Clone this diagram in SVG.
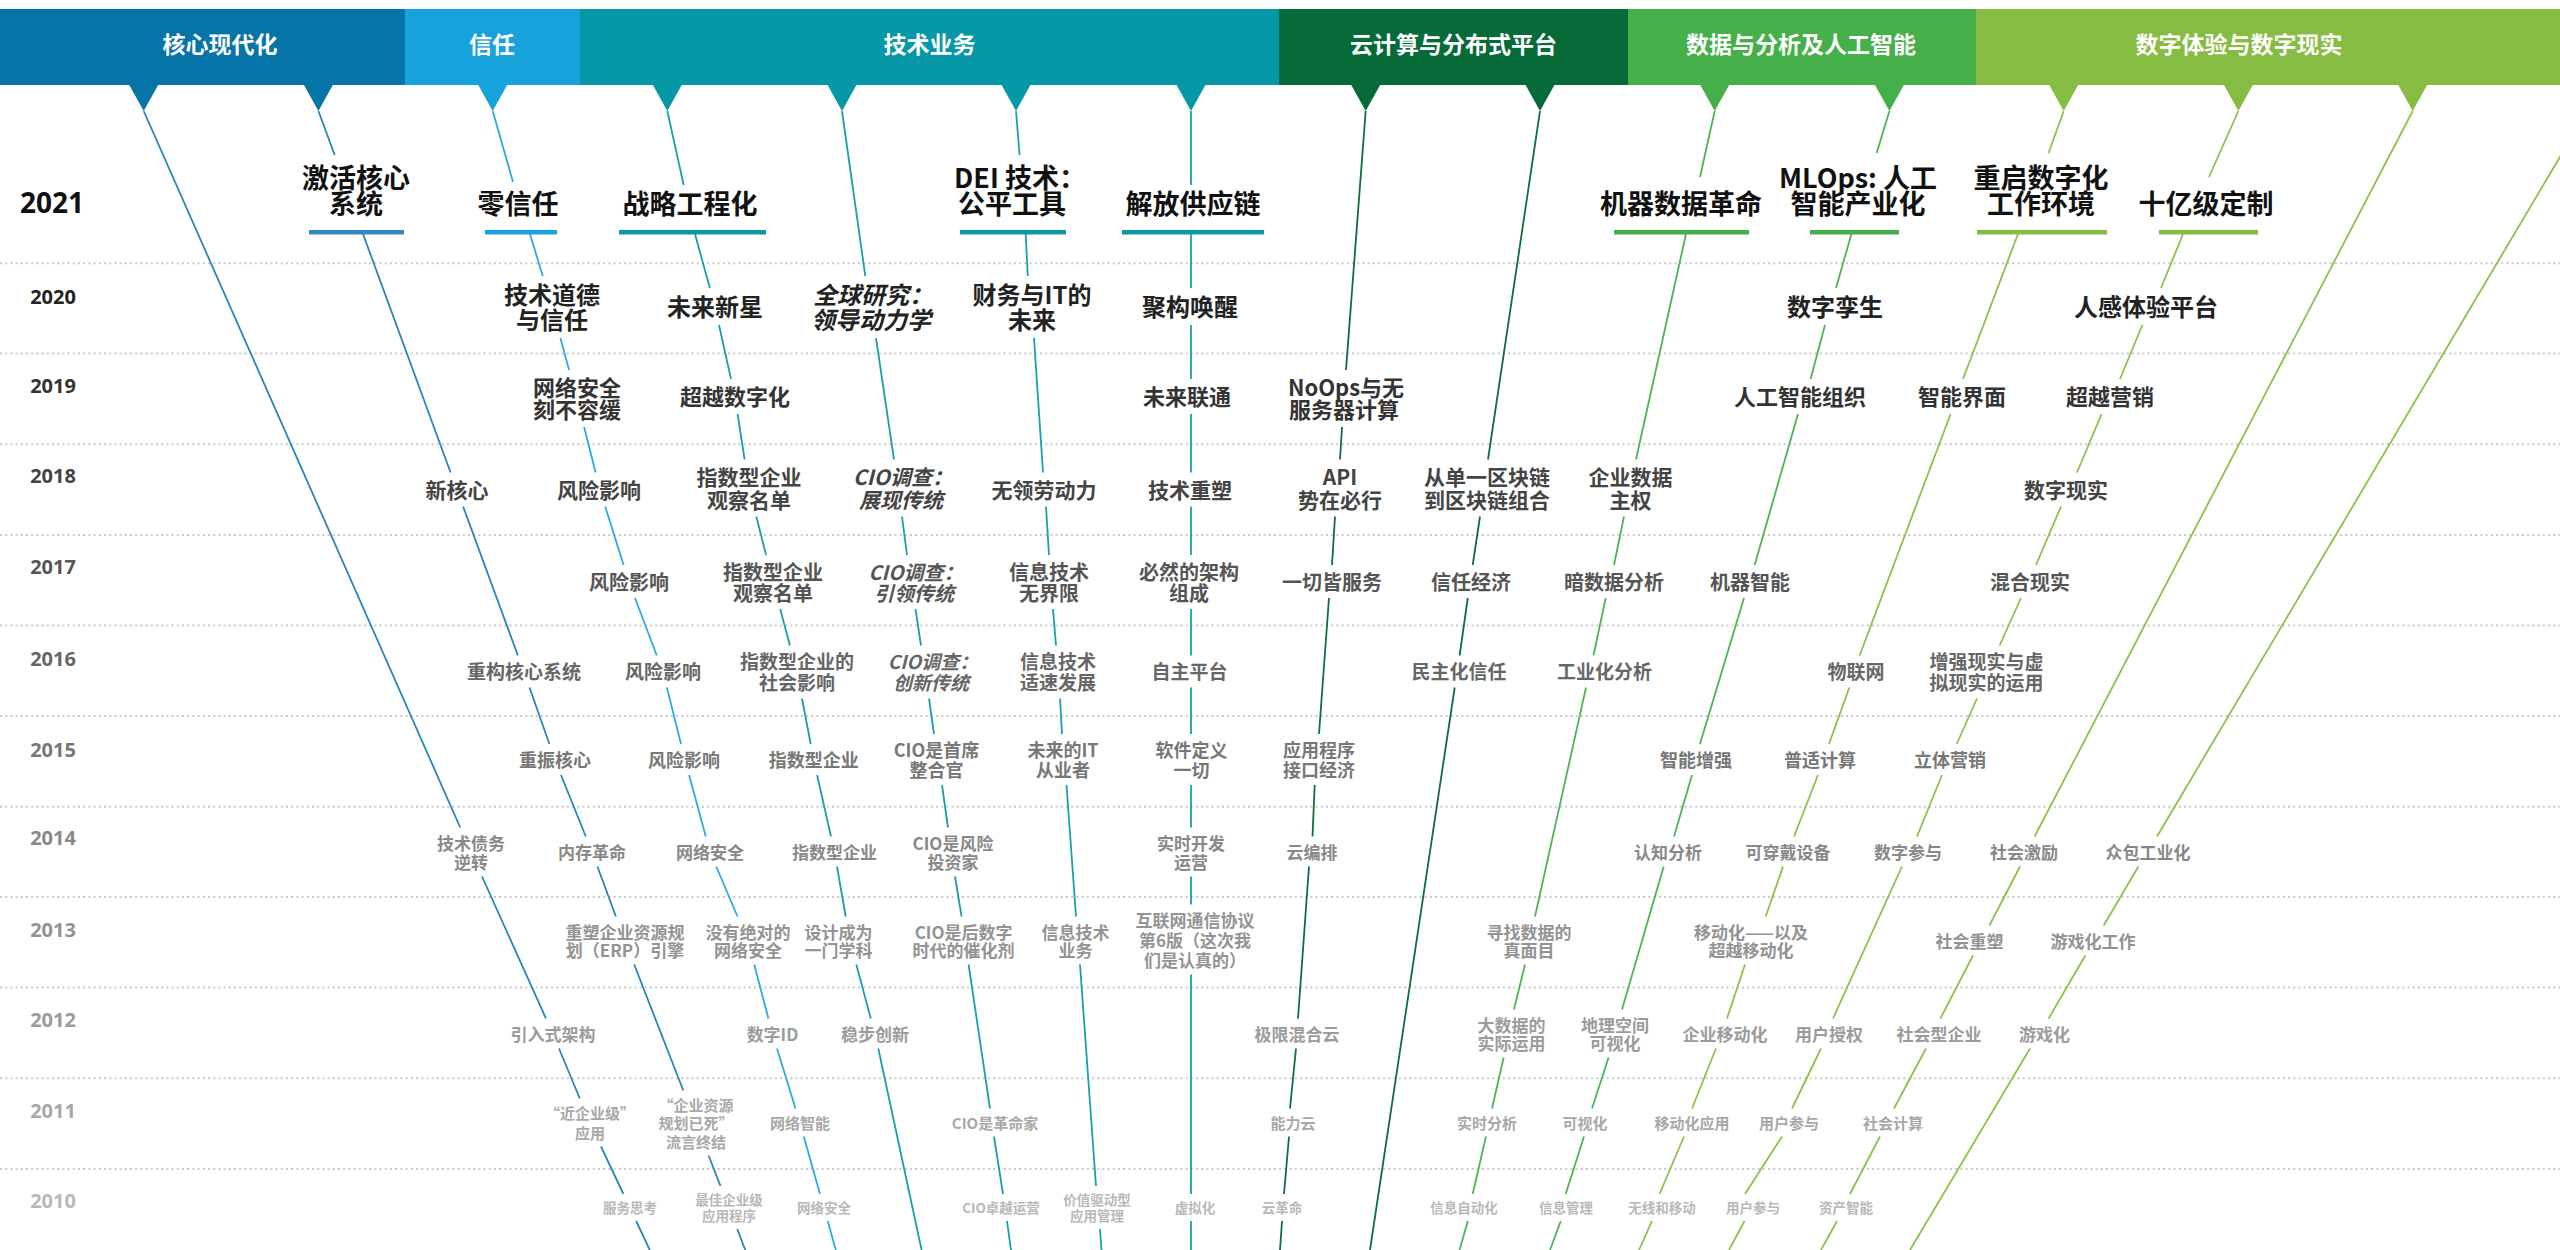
<svg xmlns="http://www.w3.org/2000/svg" width="2560" height="1250" viewBox="0 0 2560 1250">
<style>
.hd{font-family:"Noto Sans CJK SC","Noto Sans",sans-serif;font-weight:700;font-size:23px;fill:#fff;text-anchor:middle}
.yr{font-family:"Open Sans","Liberation Sans",sans-serif;font-weight:700;font-size:20px;text-anchor:middle}
.t{font-family:"Noto Sans CJK SC","Noto Sans",sans-serif;font-weight:700;text-anchor:middle}
.it{font-style:italic}
.r21{font-size:27px;fill:#111}
.r20{font-size:24px;fill:#222}
.r19{font-size:22px;fill:#333}
.r18{font-size:21px;fill:#444}
.r17{font-size:20px;fill:#555}
.r16{font-size:19px;fill:#666}
.r15{font-size:18px;fill:#777}
.r14{font-size:17px;fill:#888}
.r13{font-size:17px;fill:#939393}
.r12{font-size:17px;fill:#9b9b9b}
.r11{font-size:15px;fill:#a8a8a8}
.r10{font-size:13.5px;fill:#b8b8b8}
.grid line{stroke:#c8c8c8;stroke-width:2;stroke-dasharray:2 3.2}
.cn path{fill:none;stroke-width:1.8}
.core{stroke:#2a86ba}
.trust{stroke:#2babe2}
.tech{stroke:#1a9faf}
.cloud{stroke:#0e6e3c}
.data{stroke:#4db552}
.dx{stroke:#8cc14c}
</style>
<rect width="2560" height="1250" fill="#fff"/>

<g id="grid" class="grid">
<line x1="0" y1="263.3" x2="2560" y2="263.3"/>
<line x1="0" y1="353.5" x2="2560" y2="353.5"/>
<line x1="0" y1="444.3" x2="2560" y2="444.3"/>
<line x1="0" y1="535" x2="2560" y2="535"/>
<line x1="0" y1="625.5" x2="2560" y2="625.5"/>
<line x1="0" y1="716" x2="2560" y2="716"/>
<line x1="0" y1="806.7" x2="2560" y2="806.7"/>
<line x1="0" y1="897" x2="2560" y2="897"/>
<line x1="0" y1="987.5" x2="2560" y2="987.5"/>
<line x1="0" y1="1078.3" x2="2560" y2="1078.3"/>
<line x1="0" y1="1169" x2="2560" y2="1169"/>
</g>

<g id="header">
<g id="cat-core" fill="#0774a8">
<rect x="0" y="9" width="405" height="76"/>
<polygon points="128.7,84 158.7,84 143.7,111"/>
<polygon points="303.4,84 333.4,84 318.4,111"/>
<text class="hd" x="220" y="52.7">核心现代化</text>
</g>
<g id="cat-trust" fill="#18a2dc">
<rect x="405" y="9" width="175" height="76"/>
<polygon points="477.7,84 507.7,84 492.7,111"/>
<text class="hd" x="492" y="52.7">信任</text>
</g>
<g id="cat-tech" fill="#0798a8">
<rect x="580" y="9" width="699" height="76"/>
<polygon points="652.3,84 682.3,84 667.3,111"/>
<polygon points="827,84 857,84 842,111"/>
<polygon points="1001,84 1031,84 1016,111"/>
<polygon points="1176,84 1206,84 1191,111"/>
<text class="hd" x="929.6" y="52.7">技术业务</text>
</g>
<g id="cat-cloud" fill="#076b39">
<rect x="1279" y="9" width="349" height="76"/>
<polygon points="1350.7,84 1380.7,84 1365.7,111"/>
<polygon points="1525,84 1555,84 1540,111"/>
<text class="hd" x="1453.5" y="52.7">云计算与分布式平台</text>
</g>
<g id="cat-data" fill="#45b04a">
<rect x="1628" y="9" width="348" height="76"/>
<polygon points="1699.7,84 1729.7,84 1714.7,111"/>
<polygon points="1874.4,84 1904.4,84 1889.4,111"/>
<text class="hd" x="1801" y="52.7">数据与分析及人工智能</text>
</g>
<g id="cat-dx" fill="#86bc41">
<rect x="1976" y="9" width="584" height="76"/>
<polygon points="2048.7,84 2078.7,84 2063.7,111"/>
<polygon points="2223.4,84 2253.4,84 2238.4,111"/>
<polygon points="2397.7,84 2427.7,84 2412.7,111"/>
<text class="hd" x="2239" y="52.7">数字体验与数字现实</text>
</g>
</g>

<g id="years" class="years">
<text class="yr" x="52" y="213" style="font-size:28px" fill="#111">2021</text>
<text class="yr" x="53" y="304" fill="#222">2020</text>
<text class="yr" x="53" y="393" fill="#333">2019</text>
<text class="yr" x="53" y="483" fill="#444">2018</text>
<text class="yr" x="53" y="574" fill="#555">2017</text>
<text class="yr" x="53" y="666" fill="#666">2016</text>
<text class="yr" x="53" y="757" fill="#777">2015</text>
<text class="yr" x="53" y="845" fill="#888">2014</text>
<text class="yr" x="53" y="937" fill="#939393">2013</text>
<text class="yr" x="53" y="1027" fill="#9b9b9b">2012</text>
<text class="yr" x="53" y="1118" fill="#a8a8a8">2011</text>
<text class="yr" x="53" y="1208" fill="#b8b8b8">2010</text>
</g>

<g id="connectors" class="cn">
<path class="core" d="M143.7 111L460.2 827.5M482 876.5L546 1018.5M559 1048.5L579.8 1098.5M601 1146.5L623.4 1194M636.1 1221L649.8 1250"/>
<path class="core" d="M318.4 111L334.7 155M363 234L450.6 472.5M463.1 506.5L517.9 655.5M529.5 687.5L549.4 744M561 775L585.8 836.5M597.4 866.5L615.9 916.5M634.2 964.5L683.3 1090.5M708.6 1155.5L720.5 1186M737.2 1229L745.3 1250"/>
<path class="trust" d="M492.7 111L513 182M530 234L542.7 276M560.4 338L569.1 370M584.1 427L595.6 472.5M605.2 506.5L623.6 565M635 598L656.8 655.5M666.9 687.5L681 744M689.1 775L705.8 836.5M716.2 866.5L737.5 916.5M754.2 964.5L768.4 1018.5M777 1048.5L795.5 1108.5M803.8 1136.5L820 1194M827.7 1221L835.8 1250"/>
<path class="tech" d="M667.3 111L683.7 185M695 234L709.8 288M719 325L731 379M737.6 414L744.6 459.5M756.3 516.5L766.1 555M780.2 609L789.9 645.5M802 698.5L810.7 744M817.1 775L831 836.5M837 866.5L845.7 916.5M856.3 964.5L870.8 1018.5M878.3 1048.5L921.6 1250"/>
<path class="tech" d="M842 111L865.3 276M876 338L894 459.5M902 516.5L907 555M915.5 609L921 645.5M929 698.5L934 734M942 785L948 827.5M955 876.5L961.6 916.5M968.6 964.5L990 1108.5M994 1136.5L1003 1194M1007 1221L1011 1250"/>
<path class="tech" d="M1016 111L1019.6 155M1025.7 234L1027.8 276M1034 338L1043 472.5M1046 506.5L1049 555M1053 609L1056 645.5M1060 698.5L1062 734M1066.5 785L1076 916.5M1080 964.5L1096 1186M1100 1229L1101.5 1250"/>
<path class="tech" d="M1191 111V185M1191 234V288M1191 325V379M1191 414V472.5M1191 506.5V555M1191 609V655.5M1191 687.5V734M1191 785V827.5M1191 876.5V904.5M1191 974.5V1194M1191 1221V1250"/>
<path class="cloud" d="M1365.7 111L1346 370M1342 427L1340 459.5M1335 516.5L1332 565M1329 598L1319 734M1314.7 785L1312.5 836.5M1309 866.5L1298 1018.5M1296 1048.5L1290 1108.5M1289 1136.5L1284 1194M1282 1221L1280 1250"/>
<path class="cloud" d="M1540 111L1488 459.5M1480 516.5L1472.7 565M1467.8 598L1459.6 655.5M1454.7 687.5L1370 1250"/>
<path class="data" d="M1714.7 111L1700 177M1686 234L1636 459.5M1624 516.5L1614 565M1605.7 598L1593.5 655.5M1586 687.5L1535 916.5M1525 964.5L1514 1009.5M1503.7 1057.5L1492 1108.5M1486 1136.5L1472.7 1194M1467.8 1221L1459.6 1250"/>
<path class="data" d="M1889.4 111L1876.7 153M1851.4 234L1836 288M1825 325L1810.6 379M1798 414L1754.7 565M1744 598L1700 744M1692 775L1674 836.5M1663.7 866.5L1622 1009.5M1608.6 1057.5L1592 1108.5M1584 1136.5L1565.7 1194M1560.8 1221L1550 1250"/>
<path class="dx" d="M2063.7 111L2048.6 153M2018 234L1963 379M1950.6 414L1859.6 655.5M1849.4 687.5L1829 744M1818 775L1794 836.5M1783 866.5L1765.7 916.5M1745 964.5L1727 1018.5M1716 1048.5L1692 1108.5M1684 1136.5L1659.6 1194M1652 1221L1639 1250"/>
<path class="dx" d="M2238.4 111L2209 177M2183 234L2161 288M2142.4 325L2120 379M2101.6 414L2077 472.5M2061 506.5L2036 565M2021 598L1999.6 645.5M1977 698.5L1956.7 744M1942 775L1917 836.5M1902 866.5L1833 1018.5M1821 1048.5L1792 1108.5M1782 1136.5L1745 1194M1744.5 1221L1729 1250"/>
<path class="dx" d="M2412.7 111L2034.6 836.5M2020 866.5L1989.4 925.5M1973 955.5L1940.4 1018.5M1926 1048.5L1894 1108.5M1880 1136.5L1850 1194M1837 1221L1821 1250"/>
<path class="dx" d="M2587.2 111L2157 836.5M2138.4 866.5L2103.7 925.5M2085.3 955.5L2048.6 1018.5M2030 1048.5L1910 1250"/>
</g>

<g id="nodes-2021">
<g id="n2021-jihuo"><rect x="309" y="230" width="95" height="4.5" fill="#3489bd"/><text class="t r21" x="356" y="187.5">激活核心<tspan x="356" y="213.5">系统</tspan></text></g>
<g id="n2021-lingxinren"><rect x="485" y="230" width="72" height="4.5" fill="#1aa3dc"/><text class="t r21" x="518" y="213.5">零信任</text></g>
<g id="n2021-zhanlue"><rect x="619" y="230" width="147" height="4.5" fill="#0a98a8"/><text class="t r21" x="690" y="213.5">战略工程化</text></g>
<g id="n2021-dei"><rect x="960" y="230" width="106" height="4.5" fill="#0a98a8"/><text class="t r21" x="1020" y="187.5">DEI 技术：<tspan x="1012" y="213.5">公平工具</tspan></text></g>
<g id="n2021-gongyinglian"><rect x="1122" y="230" width="142" height="4.5" fill="#0a98a8"/><text class="t r21" x="1193" y="213.5">解放供应链</text></g>
<g id="n2021-jiqi"><rect x="1614" y="230" width="135" height="4.5" fill="#45b04b"/><text class="t r21" x="1681" y="213.5">机器数据革命</text></g>
<g id="n2021-mlops"><rect x="1810" y="230" width="89" height="4.5" fill="#45b04b"/><text class="t r21" x="1858" y="187.5">MLOps: 人工<tspan x="1858" y="213.5">智能产业化</tspan></text></g>
<g id="n2021-chongqi"><rect x="1977" y="230" width="130" height="4.5" fill="#86bc42"/><text class="t r21" x="2041" y="187.5">重启数字化<tspan x="2041" y="213.5">工作环境</tspan></text></g>
<g id="n2021-shiyi"><rect x="2159" y="230" width="99" height="4.5" fill="#86bc42"/><text class="t r21" x="2206" y="213.5">十亿级定制</text></g>
</g>

<g id="nodes-2020">
<g id="n2020-1"><text class="t r20" x="552" y="304.1">技术道德<tspan x="552" y="329.1">与信任</tspan></text></g>
<g id="n2020-2"><text class="t r20" x="715" y="316.1">未来新星</text></g>
<g id="n2020-3"><text class="t r20 it" x="873" y="304.1">全球研究：<tspan x="871" y="329.1">领导动力学</tspan></text></g>
<g id="n2020-4"><text class="t r20" x="1032" y="304.1">财务与IT的<tspan x="1032" y="329.1">未来</tspan></text></g>
<g id="n2020-5"><text class="t r20" x="1190" y="316.1">聚构唤醒</text></g>
<g id="n2020-6"><text class="t r20" x="1835" y="316.1">数字孪生</text></g>
<g id="n2020-7"><text class="t r20" x="2146" y="316.1">人感体验平台</text></g>
</g>

<g id="nodes-2019">
<g id="n2019-1"><text class="t r19" x="577" y="396.4">网络安全<tspan x="577" y="418.4">刻不容缓</tspan></text></g>
<g id="n2019-2"><text class="t r19" x="735" y="405.4">超越数字化</text></g>
<g id="n2019-3"><text class="t r19" x="1187" y="405.4">未来联通</text></g>
<g id="n2019-4"><text class="t r19" x="1346" y="396.4">NoOps与无<tspan x="1344" y="418.4">服务器计算</tspan></text></g>
<g id="n2019-5"><text class="t r19" x="1800" y="405.4">人工智能组织</text></g>
<g id="n2019-6"><text class="t r19" x="1962" y="405.4">智能界面</text></g>
<g id="n2019-7"><text class="t r19" x="2110" y="405.4">超越营销</text></g>
</g>

<g id="nodes-2018">
<g id="n2018-1"><text class="t r18" x="457" y="498">新核心</text></g>
<g id="n2018-2"><text class="t r18" x="599" y="498">风险影响</text></g>
<g id="n2018-3"><text class="t r18" x="749" y="485">指数型企业<tspan x="749" y="508">观察名单</tspan></text></g>
<g id="n2018-4"><text class="t r18 it" x="903" y="485">CIO调查：<tspan x="901" y="508">展现传统</tspan></text></g>
<g id="n2018-5"><text class="t r18" x="1044" y="498">无领劳动力</text></g>
<g id="n2018-6"><text class="t r18" x="1190" y="498">技术重塑</text></g>
<g id="n2018-7"><text class="t r18" x="1340" y="485">API<tspan x="1340" y="508">势在必行</tspan></text></g>
<g id="n2018-8"><text class="t r18" x="1487" y="485">从单一区块链<tspan x="1487" y="508">到区块链组合</tspan></text></g>
<g id="n2018-9"><text class="t r18" x="1630.5" y="485">企业数据<tspan x="1630.5" y="508">主权</tspan></text></g>
<g id="n2018-10"><text class="t r18" x="2066" y="498">数字现实</text></g>
</g>

<g id="nodes-2017">
<g id="n2017-1"><text class="t r17" x="629" y="589.6">风险影响</text></g>
<g id="n2017-2"><text class="t r17" x="773" y="579.6">指数型企业<tspan x="773" y="600.6">观察名单</tspan></text></g>
<g id="n2017-3"><text class="t r17 it" x="916" y="579.6">CIO调查：<tspan x="914" y="600.6">引领传统</tspan></text></g>
<g id="n2017-4"><text class="t r17" x="1049" y="579.6">信息技术<tspan x="1049" y="600.6">无界限</tspan></text></g>
<g id="n2017-5"><text class="t r17" x="1189" y="579.6">必然的架构<tspan x="1189" y="600.6">组成</tspan></text></g>
<g id="n2017-6"><text class="t r17" x="1332" y="589.6">一切皆服务</text></g>
<g id="n2017-7"><text class="t r17" x="1471" y="589.6">信任经济</text></g>
<g id="n2017-8"><text class="t r17" x="1614" y="589.6">暗数据分析</text></g>
<g id="n2017-9"><text class="t r17" x="1750" y="589.6">机器智能</text></g>
<g id="n2017-10"><text class="t r17" x="2030" y="589.6">混合现实</text></g>
</g>

<g id="nodes-2016">
<g id="n2016-1"><text class="t r16" x="524" y="679.2">重构核心系统</text></g>
<g id="n2016-2"><text class="t r16" x="663" y="679.2">风险影响</text></g>
<g id="n2016-3"><text class="t r16" x="797" y="669.2">指数型企业的<tspan x="797" y="690.2">社会影响</tspan></text></g>
<g id="n2016-4"><text class="t r16 it" x="933" y="669.2">CIO调查：<tspan x="931" y="690.2">创新传统</tspan></text></g>
<g id="n2016-5"><text class="t r16" x="1058" y="669.2">信息技术<tspan x="1058" y="690.2">适速发展</tspan></text></g>
<g id="n2016-6"><text class="t r16" x="1189.5" y="679.2">自主平台</text></g>
<g id="n2016-7"><text class="t r16" x="1459" y="679.2">民主化信任</text></g>
<g id="n2016-8"><text class="t r16" x="1604.5" y="679.2">工业化分析</text></g>
<g id="n2016-9"><text class="t r16" x="1856" y="679.2">物联网</text></g>
<g id="n2016-10"><text class="t r16" x="1986.5" y="669.2">增强现实与虚<tspan x="1986.5" y="690.2">拟现实的运用</tspan></text></g>
</g>

<g id="nodes-2015">
<g id="n2015-1"><text class="t r15" x="555" y="766.8">重振核心</text></g>
<g id="n2015-2"><text class="t r15" x="684" y="766.8">风险影响</text></g>
<g id="n2015-3"><text class="t r15" x="813.7" y="766.8">指数型企业</text></g>
<g id="n2015-4"><text class="t r15" x="936.5" y="756.8">CIO是首席<tspan x="936.5" y="776.8">整合官</tspan></text></g>
<g id="n2015-5"><text class="t r15" x="1063" y="756.8">未来的IT<tspan x="1063" y="776.8">从业者</tspan></text></g>
<g id="n2015-6"><text class="t r15" x="1191.5" y="756.8">软件定义<tspan x="1191.5" y="776.8">一切</tspan></text></g>
<g id="n2015-7"><text class="t r15" x="1319" y="756.8">应用程序<tspan x="1319" y="776.8">接口经济</tspan></text></g>
<g id="n2015-8"><text class="t r15" x="1696" y="766.8">智能增强</text></g>
<g id="n2015-9"><text class="t r15" x="1820" y="766.8">普适计算</text></g>
<g id="n2015-10"><text class="t r15" x="1950" y="766.8">立体营销</text></g>
</g>

<g id="nodes-2014">
<g id="n2014-1"><text class="t r14" x="471" y="849.5">技术债务<tspan x="471" y="868.5">逆转</tspan></text></g>
<g id="n2014-2"><text class="t r14" x="592" y="858.5">内存革命</text></g>
<g id="n2014-3"><text class="t r14" x="710" y="858.5">网络安全</text></g>
<g id="n2014-4"><text class="t r14" x="834.5" y="858.5">指数型企业</text></g>
<g id="n2014-5"><text class="t r14" x="953" y="849.5">CIO是风险<tspan x="953" y="868.5">投资家</tspan></text></g>
<g id="n2014-6"><text class="t r14" x="1191" y="849.5">实时开发<tspan x="1191" y="868.5">运营</tspan></text></g>
<g id="n2014-7"><text class="t r14" x="1312" y="858.5">云编排</text></g>
<g id="n2014-8"><text class="t r14" x="1668" y="858.5">认知分析</text></g>
<g id="n2014-9"><text class="t r14" x="1788" y="858.5">可穿戴设备</text></g>
<g id="n2014-10"><text class="t r14" x="1908" y="858.5">数字参与</text></g>
<g id="n2014-11"><text class="t r14" x="2024" y="858.5">社会激励</text></g>
<g id="n2014-12"><text class="t r14" x="2148" y="858.5">众包工业化</text></g>
</g>

<g id="nodes-2013">
<g id="n2013-1"><text class="t r13" x="625" y="938.5">重塑企业资源规<tspan x="625" y="956.5">划（ERP）引擎</tspan></text></g>
<g id="n2013-2"><text class="t r13" x="748" y="938.5">没有绝对的<tspan x="748" y="956.5">网络安全</tspan></text></g>
<g id="n2013-3"><text class="t r13" x="838.5" y="938.5">设计成为<tspan x="838.5" y="956.5">一门学科</tspan></text></g>
<g id="n2013-4"><text class="t r13" x="963.6" y="938.5">CIO是后数字<tspan x="963.6" y="956.5">时代的催化剂</tspan></text></g>
<g id="n2013-5"><text class="t r13" x="1075.5" y="938.5">信息技术<tspan x="1075.5" y="956.5">业务</tspan></text></g>
<g id="n2013-6"><text class="t r13" x="1195" y="926.5">互联网通信协议<tspan x="1195" y="946.5">第6版（这次我</tspan><tspan x="1195" y="966.5">们是认真的）</tspan></text></g>
<g id="n2013-7"><text class="t r13" x="1529" y="938.5">寻找数据的<tspan x="1529" y="956.5">真面目</tspan></text></g>
<g id="n2013-8"><text class="t r13" x="1751" y="938.5">移动化——以及<tspan x="1751" y="956.5">超越移动化</tspan></text></g>
<g id="n2013-9"><text class="t r13" x="1969.6" y="947.5">社会重塑</text></g>
<g id="n2013-10"><text class="t r13" x="2093" y="947.5">游戏化工作</text></g>
</g>

<g id="nodes-2012">
<g id="n2012-1"><text class="t r12" x="553" y="1040.5">引入式架构</text></g>
<g id="n2012-2"><text class="t r12" x="772.5" y="1040.5">数字ID</text></g>
<g id="n2012-3"><text class="t r12" x="875" y="1040.5">稳步创新</text></g>
<g id="n2012-4"><text class="t r12" x="1297" y="1040.5">极限混合云</text></g>
<g id="n2012-5"><text class="t r12" x="1511.5" y="1031.5">大数据的<tspan x="1511.5" y="1049.5">实际运用</tspan></text></g>
<g id="n2012-6"><text class="t r12" x="1615" y="1031.5">地理空间<tspan x="1615" y="1049.5">可视化</tspan></text></g>
<g id="n2012-7"><text class="t r12" x="1725" y="1040.5">企业移动化</text></g>
<g id="n2012-8"><text class="t r12" x="1829" y="1040.5">用户授权</text></g>
<g id="n2012-9"><text class="t r12" x="1939" y="1040.5">社会型企业</text></g>
<g id="n2012-10"><text class="t r12" x="2044.5" y="1040.5">游戏化</text></g>
</g>

<g id="nodes-2011">
<g id="n2011-1"><text class="t r11" x="590" y="1118.7">“近企业级”<tspan x="590" y="1138.7">应用</tspan></text></g>
<g id="n2011-2"><text class="t r11" x="696" y="1110.7">“企业资源<tspan x="696" y="1128.7">规划已死”</tspan><tspan x="696" y="1147.7">流言终结</tspan></text></g>
<g id="n2011-3"><text class="t r11" x="800" y="1128.7">网络智能</text></g>
<g id="n2011-4"><text class="t r11" x="995" y="1128.7">CIO是革命家</text></g>
<g id="n2011-5"><text class="t r11" x="1293" y="1128.7">能力云</text></g>
<g id="n2011-6"><text class="t r11" x="1487" y="1128.7">实时分析</text></g>
<g id="n2011-7"><text class="t r11" x="1585" y="1128.7">可视化</text></g>
<g id="n2011-8"><text class="t r11" x="1692" y="1128.7">移动化应用</text></g>
<g id="n2011-9"><text class="t r11" x="1789" y="1128.7">用户参与</text></g>
<g id="n2011-10"><text class="t r11" x="1893" y="1128.7">社会计算</text></g>
</g>

<g id="nodes-2010">
<g id="n2010-1"><text class="t r10" x="630" y="1213.1">服务思考</text></g>
<g id="n2010-2"><text class="t r10" x="729" y="1205.1">最佳企业级<tspan x="729" y="1221.1">应用程序</tspan></text></g>
<g id="n2010-3"><text class="t r10" x="824" y="1213.1">网络安全</text></g>
<g id="n2010-4"><text class="t r10" x="1001" y="1213.1">CIO卓越运营</text></g>
<g id="n2010-5"><text class="t r10" x="1097" y="1205.1">价值驱动型<tspan x="1097" y="1221.1">应用管理</tspan></text></g>
<g id="n2010-6"><text class="t r10" x="1195" y="1213.1">虚拟化</text></g>
<g id="n2010-7"><text class="t r10" x="1282" y="1213.1">云革命</text></g>
<g id="n2010-8"><text class="t r10" x="1464" y="1213.1">信息自动化</text></g>
<g id="n2010-9"><text class="t r10" x="1566" y="1213.1">信息管理</text></g>
<g id="n2010-10"><text class="t r10" x="1662" y="1213.1">无线和移动</text></g>
<g id="n2010-11"><text class="t r10" x="1753" y="1213.1">用户参与</text></g>
<g id="n2010-12"><text class="t r10" x="1846" y="1213.1">资产智能</text></g>
</g>
</svg>
